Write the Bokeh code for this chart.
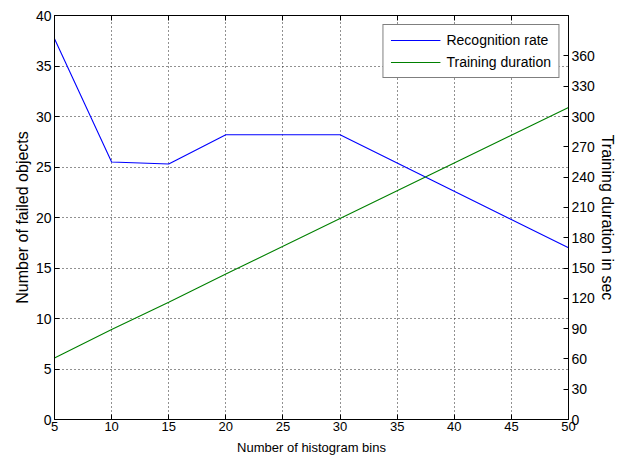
from bokeh.plotting import figure
from bokeh.models import LinearAxis, Range1d, FixedTicker, ColumnDataSource, Legend, LegendItem
from bokeh.embed import file_html
from bokeh.resources import INLINE

# ---- data ----
bins = [5, 10, 15, 20, 30, 50]
failed_objects = [37.7, 25.5, 25.3, 28.2, 28.2, 17.0]
training_sec = [61, 89, 116, 144, 199, 309]

x_ticks = [5, 10, 15, 20, 25, 30, 35, 40, 45, 50]
left_ticks = [0, 5, 10, 15, 20, 25, 30, 35, 40]
right_ticks = [0, 30, 60, 90, 120, 150, 180, 210, 240, 270, 300, 330, 360]

FONT = "Liberation Sans"

src = ColumnDataSource(dict(bins=bins, failed=failed_objects, sec=training_sec))

p = figure(width=627, height=457, x_range=Range1d(5, 50), y_range=Range1d(0, 40),
           output_backend="svg", toolbar_location=None,
           min_border_left=54, min_border_right=59, min_border_top=15, min_border_bottom=37,
           background_fill_color="white", border_fill_color="white")
p.extra_y_ranges = {"sec": Range1d(0, 400)}

p.outline_line_color = "black"
p.outline_line_width = 1
p.outline_line_alpha = 1

r1 = p.line("bins", "failed", source=src, line_color="#0000ff", line_width=1.1)
r2 = p.line("bins", "sec", source=src, line_color="#008000", line_width=1.1,
            y_range_name="sec")

# x axis
xa = p.xaxis[0]
xa.ticker = FixedTicker(ticks=x_ticks)
xa.axis_label = "Number of histogram bins"
yl = p.yaxis[0]
yl.ticker = FixedTicker(ticks=left_ticks)
yl.axis_label = "Number of failed objects"

ra = LinearAxis(y_range_name="sec", ticker=FixedTicker(ticks=right_ticks),
                axis_label="Training duration in sec")
p.add_layout(ra, "right")

ta = LinearAxis(ticker=FixedTicker(ticks=x_ticks))
p.add_layout(ta, "above")

for ax in [xa, yl, ra, ta]:
    ax.major_tick_in = 5
    ax.major_tick_out = 0
    ax.minor_tick_line_color = None
    ax.axis_line_color = "black"
    ax.major_tick_line_color = "black"
    ax.major_label_text_font = FONT
    ax.major_label_text_color = "black"
    ax.axis_label_text_font = FONT
    ax.axis_label_text_font_style = "normal"
    ax.axis_label_text_color = "black"

ta.major_label_text_font_size = "6px"
ta.major_label_text_color = None
ta.major_label_standoff = 0

xa.major_label_text_font_size = "13px"
xa.major_label_standoff = 2
xa.axis_label_text_font_size = "13px"
xa.axis_label_standoff = 6

yl.major_label_text_font_size = "14px"
yl.major_label_standoff = 3
yl.axis_label_text_font_size = "16px"
yl.axis_label_standoff = 2

ra.major_label_text_font_size = "14px"
ra.major_label_standoff = 3
ra.axis_label_text_font_size = "16px"
ra.axis_label_standoff = 1

# grid
p.xgrid.ticker = FixedTicker(ticks=x_ticks)
p.ygrid.ticker = FixedTicker(ticks=left_ticks)
for g in [p.xgrid, p.ygrid]:
    g.grid_line_color = "#222222"
    g.grid_line_dash = "1 3"
    g.grid_line_width = 1

# legend
lg = Legend(items=[LegendItem(label="Recognition rate", renderers=[r1]),
                   LegendItem(label="Training duration", renderers=[r2])])
p.add_layout(lg)
lg.location = "top_right"
lg.margin = 9
lg.padding = 7
lg.spacing = 6
lg.glyph_width = 50
lg.glyph_height = 16
lg.label_standoff = 6
lg.label_text_font = FONT
lg.label_text_font_size = "14px"
lg.label_text_color = "black"
lg.border_line_color = "black"
lg.border_line_width = 1
lg.background_fill_color = "white"
lg.background_fill_alpha = 1

open("out.html", "w").write(file_html(p, INLINE))
